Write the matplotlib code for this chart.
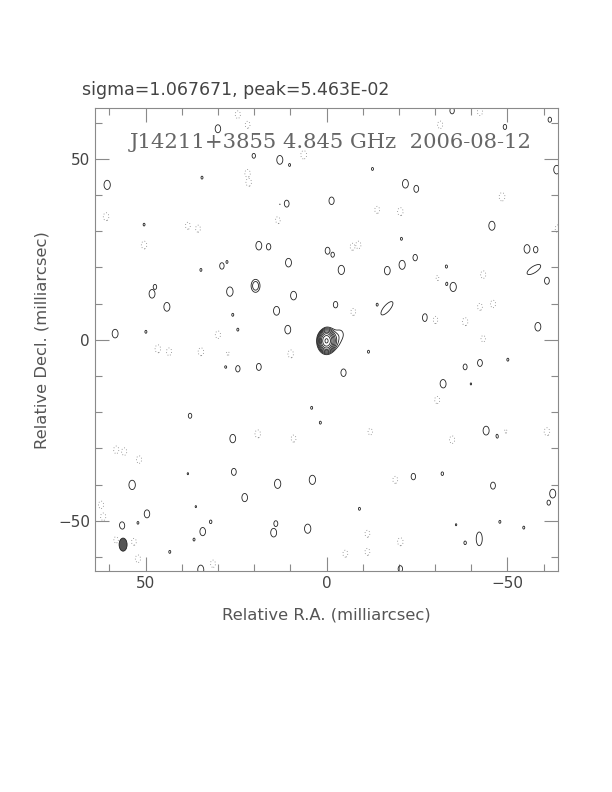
import numpy as np
import matplotlib
matplotlib.use("Agg")
import matplotlib.pyplot as plt
from matplotlib.patches import Ellipse

# map header values
sigma = 1.067671          # mJy/beam
peak = 5.463e-02          # Jy/beam
source = "J14211+3855"
freq = "4.845 GHz"
date = "2006-08-12"

# beam (mas): position, minor, major
beam_xy = (56.2, -56.6)
beam_minor = 2.2
beam_major = 3.6

# source components: ra (mas), dec (mas), peak (sigma units), width x/y (mas)
src_ra = [0.0, -3.7, -2.8]
src_dec = [-0.3, 1.6, -1.2]
src_amp = [51.2, 3.4, 2.0]
src_wx = [1.15, 1.6, 1.2]
src_wy = [1.6, 1.9, 1.5]

# positive noise peaks (ra, dec, peak in sigma)
pos_ra = [60.6, 30.0, 20.1, 12.9, 10.2, 34.4, 11.0, 12.9, 50.4, 16.3, 18.7, 16.0, -0.3, -1.7,
          10.5, 28.9, 27.5, 34.7, 48.2, 47.4, 26.7, 19.6, 9.1, 44.1, 13.8, 25.9, 3.9, 10.7, 58.4,
          24.5, 49.9, -34.7, -49.3, -61.7, -63.6, -12.7, -21.8, -24.8, -1.4, -45.7, -20.7, -55.4,
          -57.8, -4.1, -16.8, -20.9, -24.5, -33.1, -60.9, -35.0, -33.1, -28.7, -2.5, -14.0,
          -27.3, -58.4, 27.8, 24.5, 18.7, 37.7, 25.9, 25.6, 53.7, 13.5, 3.9, 22.6, 49.6, 56.5,
          14.0, 14.6, 34.2, 5.2, 34.7, 32.0, 52.1, 36.6, 43.3, 36.1, 38.3, 4.1, 1.7, -4.7, -38.3,
          -42.4, -50.1, -32.2, -39.9, -11.6, -44.1, -47.4, -24.0, -32.0, -46.0, -62.5, -61.4,
          -9.1, -38.3, -35.8, -47.9, -54.5, -20.4]
pos_dec = [42.8, 58.3, 50.8, 49.7, 48.3, 44.8, 37.6, 37.3, 31.8, 32.3, 26.0, 25.7, 24.6, 23.5,
           21.3, 20.4, 21.5, 19.3, 12.7, 14.6, 13.3, 14.9, 12.2, 9.1, 8.0, 6.9, 4.4, 2.8, 1.7,
           2.8, 2.2, 63.3, 58.8, 60.8, 47.0, 47.2, 43.1, 41.7, 38.4, 31.5, 27.9, 25.1,
           24.9, 19.3, 19.1, 20.7, 22.7, 20.2, 16.3, 14.6, 15.5, 14.9, 9.7, 9.7,
           6.1, 3.6, -7.2, -8.0, -7.5, -21.0, -27.3, -36.5, -40.1, -39.8, -38.7, -43.6, -48.1, -51.4,
           -50.8, -53.3, -53.0, -52.2, -63.5, -50.3, -50.6, -55.2, -58.6, -46.1, -37.0, -18.8,
           -22.9, -9.1, -7.5, -6.4, -5.5, -12.2, -12.2, -3.3, -25.1, -26.5, -37.8, -37.0, -40.3,
           -42.5, -45.0, -46.7, -56.1, -51.1, -50.3, -51.9, -63.3]
pos_amp = [4.1, 3.8, 3.3, 4.0, 3.1, 3.1, 3.6, 3.1, 3.1, 3.1, 3.95, 3.5, 3.6, 3.3,
           3.95, 3.5, 3.1, 3.1, 3.95, 3.3, 4.15, 5.6, 3.95, 4.0, 4.0, 3.1, 3.5, 3.95, 3.95,
           3.1, 3.1, 3.5, 3.3, 3.3, 3.95, 3.1, 3.95, 3.6, 3.7, 4.05, 3.1, 3.95,
           3.5, 4.1, 3.9, 4.05, 3.5, 3.15, 3.6, 4.1, 3.3, 3.1, 3.5, 3.1,
           3.9, 3.95, 3.5, 3.5, 3.6, 3.3, 3.9, 3.6, 4.15, 4.1, 4.1, 3.85, 3.8, 3.8,
           3.4, 3.95, 3.85, 4.1, 4.1, 3.15, 3.1, 3.1, 3.1, 3.05, 3.05, 3.1,
           3.1, 3.7, 3.4, 3.6, 3.1, 4.0, 3.05, 3.1, 4.0, 3.7, 3.5, 3.15, 3.6,
           4.0, 3.3, 3.1, 3.15, 3.05, 3.1, 3.1, 3.5]

# elongated positive features: ra, dec, peak (sigma), major/minor width (mas), angle (deg)
ext_ra = [-16.7, -57.3, -42.2]
ext_dec = [8.7, 19.4, -55.0]
ext_amp = [3.9, 3.9, 3.9]
ext_wmaj = [3.2, 3.0, 2.6]
ext_wmin = [1.2, 1.2, 1.15]
ext_pa = [131, 147, 90]

# negative noise peaks (ra, dec, depth in sigma)
neg_ra = [21.8, 21.5, 24.5, 21.8, 6.3, 60.9, 50.4, 38.3, 35.5, 13.5, 2.5, 30.0, -31.4, -42.4,
          -48.5, -20.4, -14.0, -8.8, -7.2, -63.9, -43.3, -30.6, -46.0, -42.4, -30.0, -38.3, -7.4,
          46.6, 43.5, 34.7, 27.3, 9.9, 19.0, 9.1, 58.1, 55.9, 51.8, 62.3, 61.7, 58.1, 53.2, 52.1,
          31.4, -30.6, -34.7, -49.3, -60.9, -19.0, -12.1, -11.3, -20.4, -5.2, -11.3, -43.3]
neg_dec = [46.0, 43.5, 62.2, 59.4, 51.1, 34.0, 26.2, 31.5, 30.7, 33.1, 5.0, 1.4, 59.4, 63.0,
           39.5, 35.4, 35.9, 26.2, 25.7, 30.7, 18.0, 16.9, 9.9, 9.1, 5.5, 5.0, 7.7,
           -2.5, -3.3, -3.3, -4.1, -3.9, -26.0, -27.3, -30.4, -30.9, -33.1, -45.6, -48.9, -55.2,
           -55.8, -60.5, -61.9, -16.6, -27.6, -25.4, -25.4, -38.7, -25.4, -53.6, -55.8, -59.1,
           -58.6, 0.3]
neg_amp = [3.8, 3.8, 3.7, 3.6, 3.9, 3.8, 3.8, 3.6, 3.6, 3.8, 3.6, 3.7, 3.7, 3.7,
           3.9, 3.8, 3.6, 3.7, 3.6, 3.7, 3.7, 3.6, 3.7, 3.6, 3.8, 3.8, 3.6,
           3.8, 3.7, 3.8, 3.6, 3.8, 3.8, 3.6, 3.7, 3.7, 3.7, 3.7, 3.7, 3.6, 3.6, 3.7,
           3.7, 3.7, 3.7, 3.7, 3.8, 3.6, 3.5, 3.6, 3.8, 3.6, 3.6, 3.5]

noise_wx, noise_wy = 1.1, 1.6
half = 64.0

# build the clean image from the listed components (mJy/beam);
# source components add up, noise peaks are kept apart (max / min)
g = np.linspace(-half, half, 1025)
X, Y = np.meshgrid(g, g)
src_img = np.zeros_like(X)
neg_img = np.zeros_like(X)


def gauss(ra, dec, amp, wa, wb, pa=0.0):
    reach = 6 * max(wa, wb)
    ix = np.where(np.abs(g - ra) < reach)[0]
    iy = np.where(np.abs(g - dec) < reach)[0]
    sl = (slice(iy[0], iy[-1] + 1), slice(ix[0], ix[-1] + 1))
    t = np.radians(pa)
    dx, dy = X[sl] - ra, Y[sl] - dec
    u = dx * np.cos(t) + dy * np.sin(t)
    v = -dx * np.sin(t) + dy * np.cos(t)
    return sl, amp * sigma * np.exp(-u ** 2 / (2 * wa ** 2) - v ** 2 / (2 * wb ** 2))


for r, d, a, wx, wy in zip(src_ra, src_dec, src_amp, src_wx, src_wy):
    sl, c = gauss(r, d, a, wx, wy)
    src_img[sl] += c
pos_img = src_img.copy()
for r, d, a in zip(pos_ra, pos_dec, pos_amp):
    sl, c = gauss(r, d, a, noise_wx, noise_wy)
    pos_img[sl] = np.maximum(pos_img[sl], c)
for r, d, a, wa, wb, pa in zip(ext_ra, ext_dec, ext_amp, ext_wmaj, ext_wmin, ext_pa):
    sl, c = gauss(r, d, a, wa, wb, pa)
    pos_img[sl] = np.maximum(pos_img[sl], c)
for r, d, a in zip(neg_ra, neg_dec, neg_amp):
    sl, c = gauss(r, d, -a, noise_wx, noise_wy)
    neg_img[sl] = np.minimum(neg_img[sl], c)
img = pos_img + neg_img

base = 3 * sigma
levels = [base * np.sqrt(2) ** k for k in range(9)]

fig = plt.figure(figsize=(6.12, 7.92), dpi=100)
ax = fig.add_axes([0.155, 0.278, 0.757, 0.586])

ax.contour(X, Y, img, levels=levels, colors="#222222", linewidths=0.6)
ax.contour(X, Y, img, levels=[-base], colors="#808080", linewidths=0.6,
           linestyles=[(0, (1, 2.5))])

ax.add_patch(Ellipse(beam_xy, beam_minor, beam_major, angle=0,
                     facecolor="#555555", edgecolor="#222222", lw=0.6))

ax.set_xlim(half, -half)
ax.set_ylim(-half, half)
ax.set_aspect("equal")

frame = "#8a8a8a"
for s in ax.spines.values():
    s.set_color(frame)
    s.set_linewidth(0.8)
ax.set_xticks([50, 0, -50])
ax.set_yticks([-50, 0, 50])
ax.set_xticks(np.arange(-60, 61, 10), minor=True)
ax.set_yticks(np.arange(-60, 61, 10), minor=True)
ax.tick_params(which="both", direction="in", top=True, right=True, color=frame, width=0.8,
               labelsize=11, labelcolor="#444444")
ax.tick_params(which="major", length=10)
ax.tick_params(which="minor", length=5)

ax.set_xlabel("Relative R.A. (milliarcsec)", fontsize=11.8, color="#555555", labelpad=12)
ax.set_ylabel("Relative Decl. (milliarcsec)", fontsize=11.8, color="#555555", labelpad=6)

ax.text(0.51, 0.925, f"{source} {freq}  {date}", transform=ax.transAxes, ha="center",
        va="center", fontsize=15.2, family="DejaVu Serif", color="#666666")
fig.text(82 / 612, 1 - 90 / 792, f"sigma={sigma:.6f}, peak={peak:.3E}",
         fontsize=12.5, color="#444444", va="center", ha="left")

fig.savefig("out.png", dpi=100)
